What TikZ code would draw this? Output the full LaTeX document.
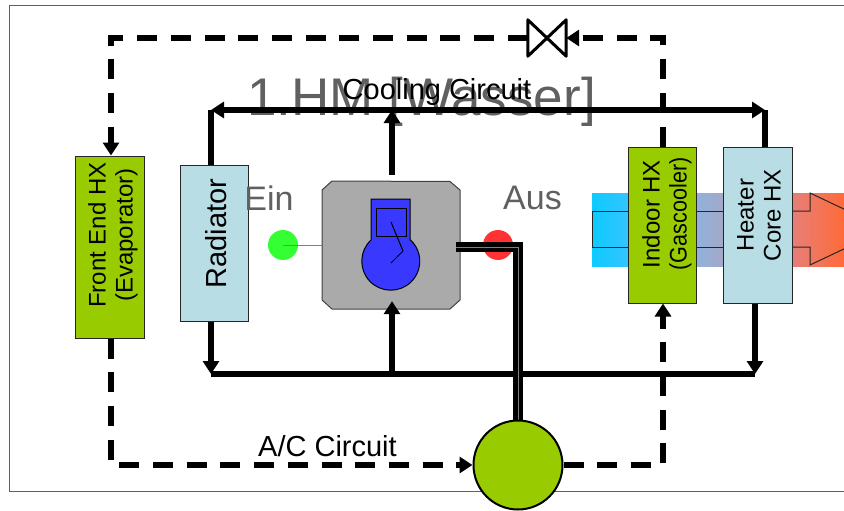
\documentclass[tikz,border=0pt]{standalone}
\usepackage{fontspec}
\setmainfont{Liberation Sans}
\usetikzlibrary{arrows.meta}
\definecolor{hxgreen}{HTML}{99CC00}
\definecolor{hxblue}{HTML}{B9DDE5}
\definecolor{blockgray}{HTML}{AAAAAA}
\definecolor{engblue}{HTML}{3838FF}
\definecolor{titlegray}{HTML}{606060}
\definecolor{bandA}{HTML}{0CCBFF}
\definecolor{bandB}{HTML}{33C4FF}
\definecolor{bandC}{HTML}{8FB2DC}
\definecolor{bandD}{HTML}{A4A8C8}
\definecolor{bandE}{HTML}{E67F78}
\definecolor{bandF}{HTML}{FF6A38}
\pgfdeclarehorizontalshading{airband}{100bp}{color(0bp)=(bandA);color(25bp)=(bandA);color(32.1bp)=(bandB);color(45.6bp)=(bandC);color(51bp)=(bandD);color(64.7bp)=(bandE);color(75bp)=(bandF);color(100bp)=(bandF)}
\tikzset{
  hxbox/.style={draw=black!85,line width=1pt,inner sep=0pt},
  vlabel/.style={rotate=90,inner sep=0pt,align=center,font=\fontsize{24}{27}\selectfont},
  solidline/.style={line width=5.5pt,-{Triangle[length=13pt,width=16pt]}},
  plainline/.style={line width=5.5pt},
  dashline/.style={line width=5.5pt,dash pattern=on 20pt off 13.7pt},
  dashtip/.style={dashline,-{Triangle[length=13pt,width=16pt]}},
  lbl/.style={inner sep=0pt,font=\fontsize{29}{31}\selectfont},
  graylbl/.style={inner sep=0pt,text=titlegray,font=\fontsize{34}{36}\selectfont},
  dot/.style={circle,inner sep=0pt,minimum size=30pt},
  tubes/.style={line width=4.5pt,draw=black,double=gray,double distance=1pt}
}
\begin{document}
\begin{tikzpicture}[x=1pt,y=-1pt,line join=miter]
\useasboundingbox (0,0) rectangle (844,511);
\clip (0,0) rectangle (844,511);
% frame
\draw[titlegray,line width=1pt] (844,6) -- (9,6) -- (9,491.5) -- (844,491.5);
% air band
\shade[shading=airband] (592,193) rectangle (844,266);
\draw[line width=1pt,black!85] (628,211) -- (592,211) -- (592,247) -- (628,247);
\draw[line width=1pt,black!85] (696,211) -- (723,211) (696,247) -- (723,247);
\draw[line width=1pt,black!85] (792,211) -- (810,211) -- (810,193) -- (886,229) -- (810,265) -- (810,247) -- (792,247);
% title behind the lines
\node[inner sep=0pt,text=titlegray,font=\fontsize{53}{55}\selectfont] (title) at (421.5,102) {1.HM [Wasser]};
% components
\node[hxbox,fill=hxgreen,minimum width=69pt,minimum height=182pt] (front) at (109.5,247) {};
\node[hxbox,fill=hxblue,minimum width=68pt,minimum height=156pt] (rad) at (214,243) {};
\node[hxbox,fill=hxgreen,minimum width=68pt,minimum height=156pt] (indoor) at (662,225) {};
\node[hxbox,fill=hxblue,minimum width=69pt,minimum height=156pt] (heater) at (757.5,225) {};
\node[vlabel] (frontl) at (113,235) {Front End HX\\(Evaporator)};
\node[vlabel,font=\fontsize{29}{31}\selectfont] (radl) at (216,233.5) {Radiator};
\node[vlabel] (indoorl) at (667,214) {Indoor HX\\\scalebox{.9}[1]{(Gascooler)}};
\node[vlabel] (heaterl) at (759,215) {Heater\\Core HX};
% engine block
\node[inner sep=0pt,minimum width=138pt,minimum height=128pt] (engine) at (391,245) {};
\draw[black!75,line width=1pt,fill=blockgray] (332,181) -- (450,181.5) -- (460,190) -- (460,300) -- (450,309) -- (332,309) -- (322,300) -- (322,190) -- cycle;
% engine symbol
\draw[fill=engblue,line width=1pt] (410,240) -- (410,199) -- (371,199) -- (371,240) arc[start angle=227,end angle=-47,radius=29] -- cycle;
\draw[line width=1pt] (376,208) rectangle (406,236);
\draw[line width=1pt] (391,222) -- (403,251) -- (391,263);
% ports
\node[dot,fill=green!80!white] (ein) at (283,245) {};
\node[dot,fill=red!80!white] (aus) at (498,245) {};
\draw[line width=1pt,gray] (ein.center) -- (engine.west |- ein.center);
% labels
\node[graylbl] (einl) at (269,198) {Ein};
\node[graylbl] (ausl) at (532.5,198) {Aus};
\node[lbl] (cool) at (437,92) {Cooling Circuit};
\node[lbl] (ac) at (327.5,446) {A/C Circuit};
% cooling circuit
\coordinate (tl) at (211,110);
\coordinate (tr) at (765,110);
\coordinate (tc) at (392,110);
\coordinate (bl) at (211,374);
\coordinate (br) at (755,374);
\coordinate (bc) at (392,374);
\coordinate (tstart) at (392,175);
\draw[plainline] ([xshift=-3pt]rad.north) -- (tl);
\draw[plainline] ([xshift=7.5pt]heater.north) -- (tr);
\draw[line width=5.5pt,{Triangle[length=13pt,width=16pt]}-{Triangle[length=13pt,width=16pt]}] (tl) -- (tr);
\draw[solidline] (tstart) -- (tc);
\draw[solidline] ([xshift=-3pt]rad.south) -- (bl);
\draw[solidline] ([xshift=-2.5pt]heater.south) -- (br);
\draw[plainline] (bl) -- (br);
\draw[solidline] (bc) -- ([xshift=1pt,yshift=8pt]engine.south);
% compressor and hot line
\draw[tubes] (456,247) -- (518,247) -- (518,425);
\node[circle,draw=black,line width=2pt,fill=hxgreen,inner sep=0pt,minimum size=89pt] (comp) at (518,465) {};
% A/C circuit
\node[inner sep=0pt,minimum width=38pt,minimum height=36pt] (valve) at (547,38) {};
\draw[line width=3pt,line join=round] (valve.south west) -- (valve.north east) -- (valve.south east) -- (valve.north west) -- cycle;
\coordinate (vu) at (663,38);
\coordinate (vl) at (111,38);
\coordinate (al) at (111,465);
\coordinate (ar) at (663,465);
\draw[dashtip] ([xshift=1pt]indoor.north) -- (vu) -- (valve.east);
\draw[dashtip] (valve.west) -- (vl) -- ([xshift=1.5pt]front.north);
\draw[dashtip] ([xshift=1.5pt]front.south) -- (al) -- (comp.west);
\draw[dashtip] (comp.east) -- (ar) -- ([xshift=1pt]indoor.south);
\end{tikzpicture}
\end{document}
